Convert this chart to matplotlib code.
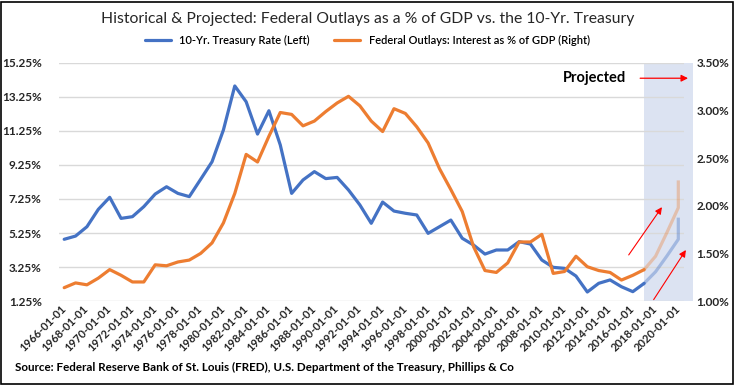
import numpy as np
import matplotlib
matplotlib.use("Agg")
import matplotlib.pyplot as plt
import matplotlib.transforms as mtransforms

plt.rcParams['font.family'] = ['Lato', 'DejaVu Sans']

# historical data, 1966-2017
years = list(range(1966, 2018))
treasury = [4.88, 5.07, 5.62, 6.64, 7.35, 6.11, 6.21, 6.80, 7.54, 7.97,
            7.58, 7.39, 8.41, 9.44, 11.31, 13.90, 12.97, 11.07, 12.44, 10.43,
            7.58, 8.37, 8.86, 8.45, 8.52, 7.78, 6.90, 5.82, 7.07, 6.54,
            6.41, 6.31, 5.23, 5.62, 6.01, 4.94, 4.54, 4.01, 4.25, 4.25,
            4.74, 4.60, 3.66, 3.23, 3.17, 2.72, 1.78, 2.29, 2.49, 2.09,
            1.80, 2.29]
interest = [1.14, 1.19, 1.17, 1.24, 1.33, 1.27, 1.20, 1.20, 1.38, 1.37,
            1.41, 1.43, 1.50, 1.61, 1.82, 2.13, 2.54, 2.46, 2.73, 2.98,
            2.96, 2.84, 2.89, 2.99, 3.08, 3.15, 3.05, 2.89, 2.78, 3.02,
            2.97, 2.83, 2.66, 2.39, 2.17, 1.94, 1.57, 1.32, 1.30, 1.40,
            1.62, 1.62, 1.70, 1.29, 1.31, 1.47, 1.36, 1.32, 1.30, 1.22,
            1.27, 1.33]

# projections (last year has two values in the source sheet)
proj_years = [2017, 2018, 2019, 2020, 2020]
proj_treasury = [2.29, 2.97, 3.90, 4.88, 6.06]
proj_interest = [1.33, 1.47, 1.72, 1.98, 2.25]

left_ticks = [1.25, 3.25, 5.25, 7.25, 9.25, 11.25, 13.25, 15.25]
right_ticks = [1.0, 1.5, 2.0, 2.5, 3.0, 3.5]
xtick_years = list(range(1966, 2021, 2))

blue = '#4472C4'
orange = '#ED7D31'

fig = plt.figure(figsize=(7.35, 3.86), dpi=100)
ax = fig.add_axes([0.0796, 0.2202, 0.8510, 0.6166])
ax2 = ax.twinx()

ax.axvspan(2017, 2021.25, ymin=0, ymax=1, color='#DCE3F2', zorder=0, clip_on=False, lw=0)

ax.plot(years, treasury, color=blue, lw=2.3, solid_capstyle='round', zorder=3,
        label='10-Yr. Treasury Rate (Left)')
ax.plot(proj_years, proj_treasury, color=blue, alpha=0.38, lw=2.3, zorder=3)
ax2.plot(years, interest, color=orange, lw=2.3, solid_capstyle='round', zorder=3,
         label='Federal Outlays: Interest as % of GDP (Right)')
ax2.plot(proj_years, proj_interest, color=orange, alpha=0.35, lw=2.3, zorder=3)

ax.set_xlim(1965.5, 2020.5)
ax.set_ylim(1.25, 15.25)
ax2.set_ylim(1.0, 3.5)
ax.set_yticks(left_ticks)
ax.set_yticklabels([f'{v:.2f}%' for v in left_ticks])
ax2.set_yticks(right_ticks)
ax2.set_yticklabels([f'{v:.2f}%' for v in right_ticks])
ax.set_xticks(xtick_years)
ax.set_xticklabels([f'{y}-01-01' for y in xtick_years], rotation=45, ha='right',
                   rotation_mode='anchor', va='center')
offset = mtransforms.ScaledTranslation(-5 / 100, -3 / 100, fig.dpi_scale_trans)
for lab in ax.get_xticklabels():
    lab.set_transform(lab.get_transform() + offset)

ax.grid(axis='y', color='#D9D9D9', lw=1, zorder=1)
ax.set_axisbelow(True)
for a in (ax, ax2):
    for s in a.spines.values():
        s.set_visible(False)
    a.tick_params(length=0, labelsize=8.5, colors='#262626')
    for lab in a.get_xticklabels() + a.get_yticklabels():
        lab.set_fontweight('bold')
ax.tick_params(axis='x', labelsize=8, pad=4)
ax.tick_params(axis='y', pad=12)
ax2.tick_params(axis='y', pad=9)
ax2.patch.set_visible(False)

# annotations
ax2.annotate('', xy=(2021.1, 3.34), xytext=(2016.4, 3.34),
             arrowprops=dict(arrowstyle='-|>', color='red', lw=0.9, mutation_scale=10),
             annotation_clip=False)
ax2.text(2015.4, 3.34, 'Projected', ha='right', va='center', fontsize=10.5,
         fontweight='bold', color='black')
ax2.annotate('', xy=(2018.7, 2.01), xytext=(2015.5, 1.46),
             arrowprops=dict(arrowstyle='-|>', color='red', lw=0.8, mutation_scale=10),
             annotation_clip=False)
ax2.annotate('', xy=(2020.8, 1.56), xytext=(2017.7, 0.99),
             arrowprops=dict(arrowstyle='-|>', color='red', lw=0.8, mutation_scale=10),
             annotation_clip=False)

fig.text(0.5, 0.952, 'Historical & Projected: Federal Outlays as a % of GDP vs. the 10-Yr. Treasury',
         ha='center', va='center', fontsize=11.3, color='#262626')
h1, l1 = ax.get_legend_handles_labels()
h2, l2 = ax2.get_legend_handles_labels()
fig.legend(h1 + h2, l1 + l2, loc='center', bbox_to_anchor=(0.5, 0.895), ncol=2,
           frameon=False, handlelength=2.3, columnspacing=2.2,
           prop={'weight': 'semibold', 'size': 8})
fig.text(0.02, 0.047, 'Source: Federal Reserve Bank of St. Louis (FRED), U.S. Department of the Treasury, Phillips & Co',
         ha='left', va='center', fontsize=8.4, fontweight='bold', color='black')

fig.add_artist(plt.Rectangle((0.002, 0.005), 0.995, 0.99, transform=fig.transFigure,
                             fill=False, edgecolor='black', lw=1.2))

fig.savefig('out.png', dpi=100)
